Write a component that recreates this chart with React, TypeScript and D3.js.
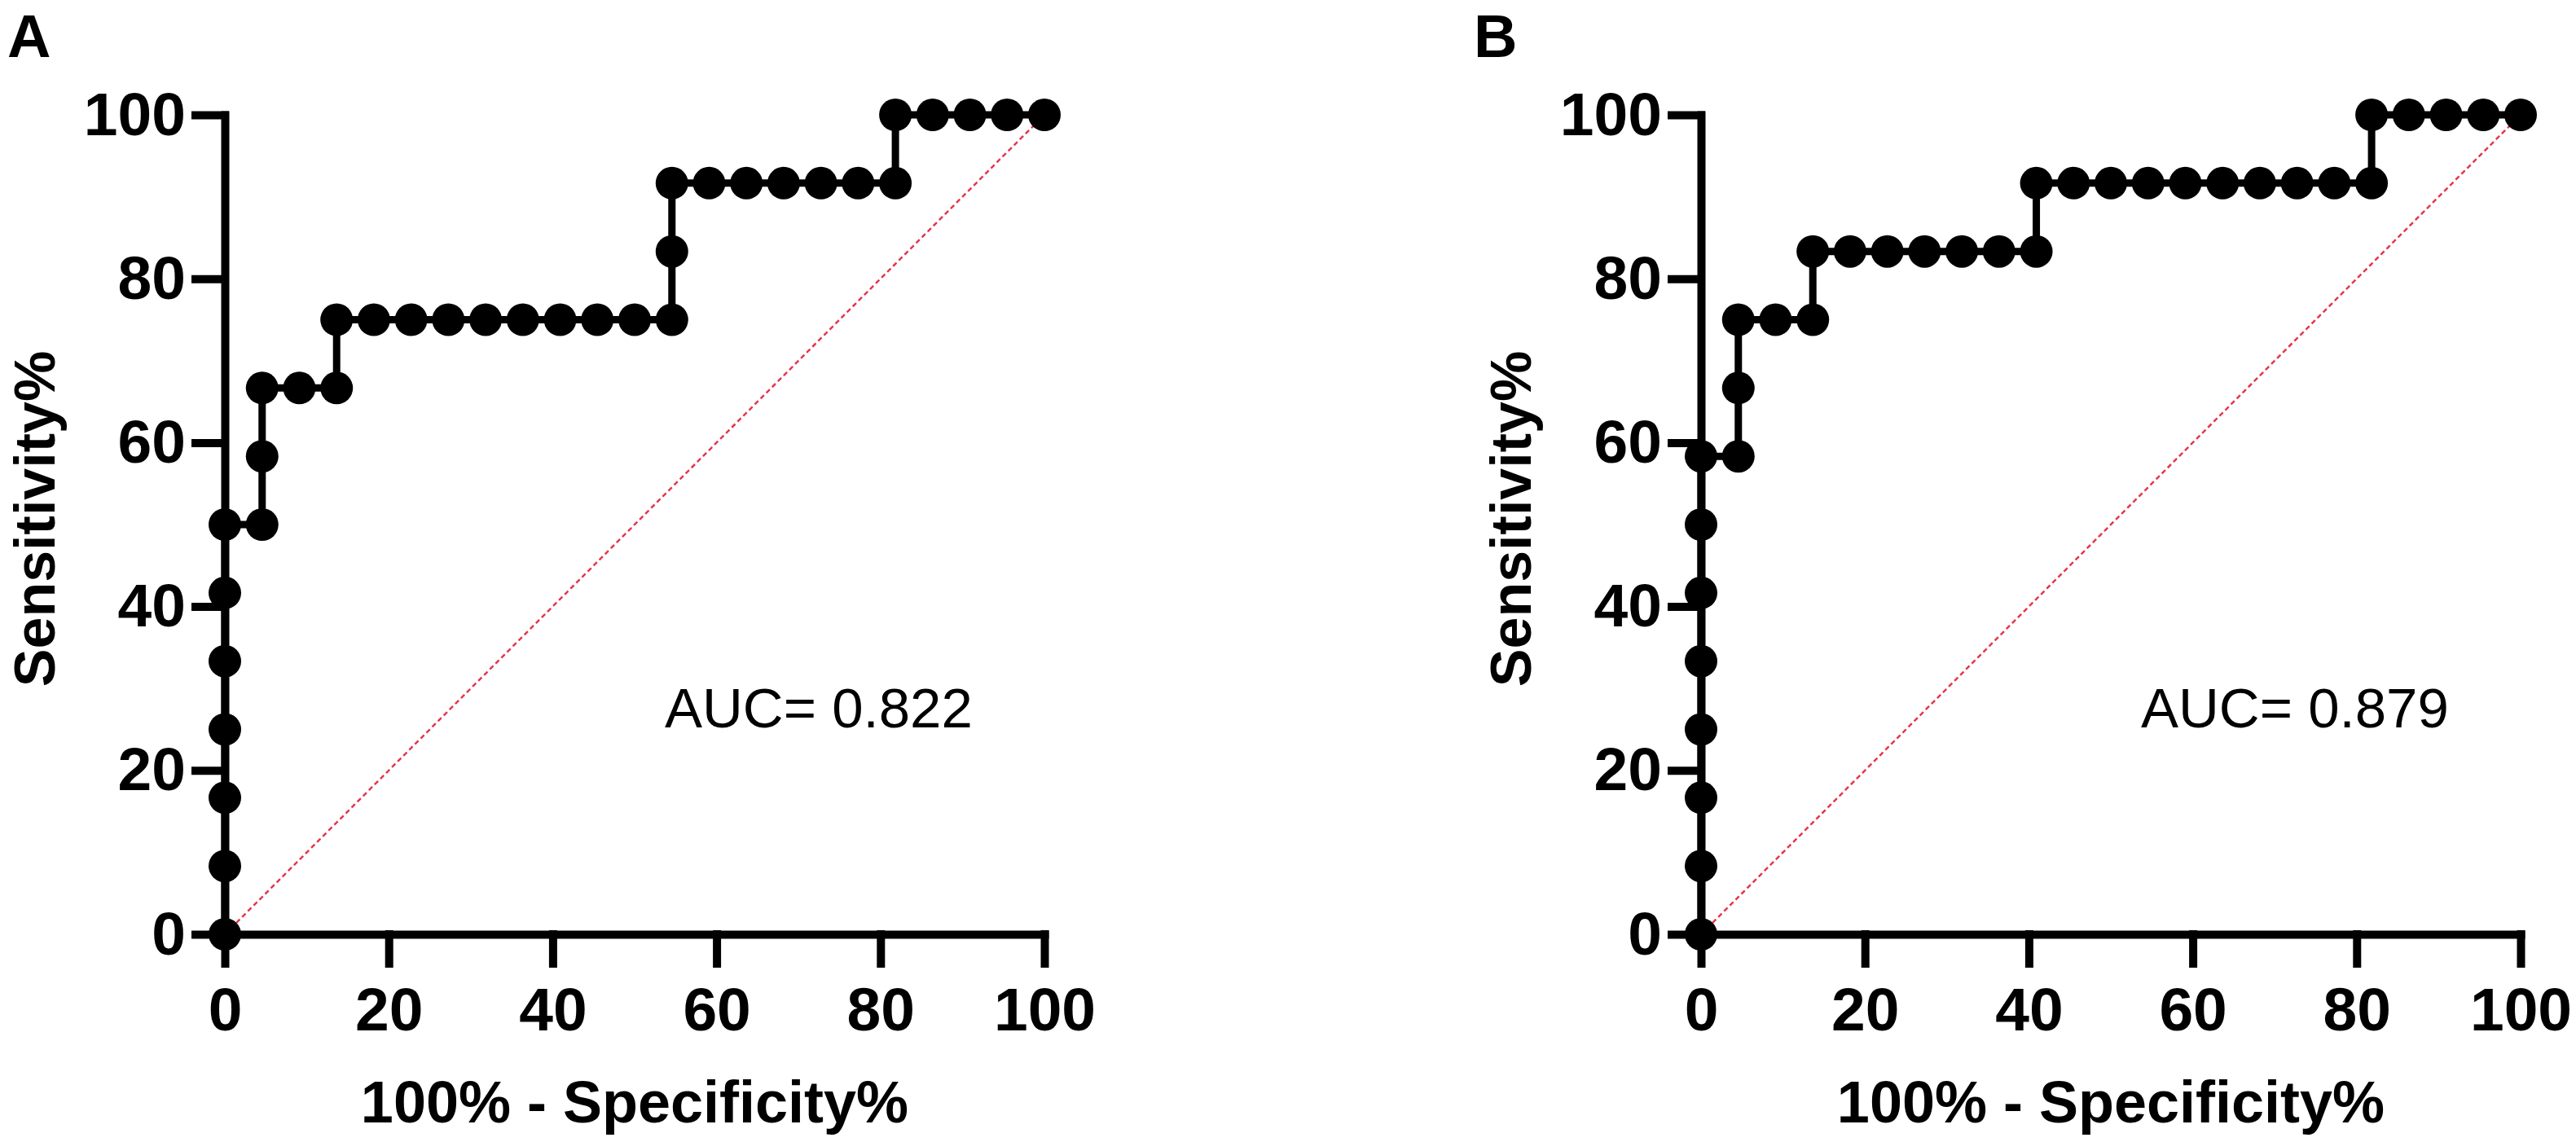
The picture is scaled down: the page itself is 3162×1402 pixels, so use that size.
import React, { useEffect, useRef } from "react";
import * as d3 from "d3";

const fprA = [
  0, 0, 0, 0, 0, 0, 0, 4.55, 4.55, 4.55, 9.09, 13.64, 13.64, 18.18, 22.73,
  27.27, 31.82, 36.36, 40.91, 45.45, 50, 54.55, 54.55, 54.55, 59.09, 63.64,
  68.18, 72.73, 77.27, 81.82, 81.82, 86.36, 90.91, 95.45, 100,
];
const tprA = [
  0, 8.33, 16.67, 25, 33.33, 41.67, 50, 50, 58.33, 66.67, 66.67, 66.67, 75, 75,
  75, 75, 75, 75, 75, 75, 75, 75, 83.33, 91.67, 91.67, 91.67, 91.67, 91.67,
  91.67, 91.67, 100, 100, 100, 100, 100,
];

const fprB = [
  0, 0, 0, 0, 0, 0, 0, 0, 4.55, 4.55, 4.55, 9.09, 13.64, 13.64, 18.18, 22.73,
  27.27, 31.82, 36.36, 40.91, 40.91, 45.45, 50, 54.55, 59.09, 63.64, 68.18,
  72.73, 77.27, 81.82, 81.82, 86.36, 90.91, 95.45, 100,
];
const tprB = [
  0, 8.33, 16.67, 25, 33.33, 41.67, 50, 58.33, 58.33, 66.67, 75, 75, 75, 83.33,
  83.33, 83.33, 83.33, 83.33, 83.33, 83.33, 91.67, 91.67, 91.67, 91.67, 91.67,
  91.67, 91.67, 91.67, 91.67, 91.67, 100, 100, 100, 100, 100,
];

const tickValues = [0, 20, 40, 60, 80, 100];
const diagonal = [0, 100];

const panels = [
  { label: "A", fpr: fprA, tpr: tprA, auc: "AUC= 0.822", left: 276, labelX: 9 },
  { label: "B", fpr: fprB, tpr: tprB, auc: "AUC= 0.879", left: 2088, labelX: 1809 },
];

const width = 3162;
const height = 1402;
const plotTop = 141;
const plotBottom = 1147;
const plotSize = 1006;
const font = "'Liberation Sans', Arial, Helvetica, sans-serif";

const App = () => {
  const ref: any = useRef();

  useEffect(() => {
    const svg = d3.select(ref.current);
    svg.selectAll("*").remove();

    panels.forEach((p) => {
      const xScale = d3.scaleLinear().domain([0, 100]).range([p.left, p.left + plotSize]);
      const yScale = d3.scaleLinear().domain([0, 100]).range([plotBottom, plotTop]);

      const g = svg.append("g");

      // panel letter
      g.append("text")
        .attr("x", p.labelX)
        .attr("y", 70)
        .attr("font-family", font)
        .attr("font-weight", "bold")
        .attr("font-size", 74)
        .text(p.label);

      // chance line
      const diagLine = d3
        .line<number>()
        .x((d) => xScale(d))
        .y((d) => yScale(d));
      g.append("path")
        .attr("d", diagLine(diagonal) || "")
        .attr("fill", "none")
        .attr("stroke", "#e8344e")
        .attr("stroke-width", 2.5)
        .attr("stroke-dasharray", "6 4");

      // axes
      const xAxis = d3
        .axisBottom(xScale)
        .tickValues(tickValues)
        .tickSize(36)
        .tickSizeOuter(0)
        .tickPadding(29)
        .tickFormat((d: any) => `${d}`);
      const yAxis = d3
        .axisLeft(yScale)
        .tickValues(tickValues)
        .tickSize(36)
        .tickSizeOuter(0)
        .tickPadding(12)
        .tickFormat((d: any) => `${d}`);

      [
        g.append("g").attr("transform", `translate(0,${plotBottom})`).call(xAxis),
        g.append("g").attr("transform", `translate(${p.left},0)`).call(yAxis),
      ].forEach((ax: any) => {
        ax.attr("font-family", font).attr("font-size", 75).attr("font-weight", "bold");
        ax.selectAll("path, line")
          .attr("stroke", "#000")
          .attr("stroke-width", 10)
          .attr("stroke-linecap", "square");
        ax.selectAll("text").attr("fill", "#000");
      });

      // ROC step curve
      const pts = p.fpr.map((x, i) => [x, p.tpr[i]] as [number, number]);
      const rocLine = d3
        .line<[number, number]>()
        .x((d) => xScale(d[0]))
        .y((d) => yScale(d[1]));
      g.append("path")
        .attr("d", rocLine(pts) || "")
        .attr("fill", "none")
        .attr("stroke", "#000")
        .attr("stroke-width", 9);

      g.append("g")
        .selectAll("circle")
        .data(pts)
        .join("circle")
        .attr("cx", (d) => xScale(d[0]))
        .attr("cy", (d) => yScale(d[1]))
        .attr("r", 20)
        .attr("fill", "#000");

      // AUC annotation
      g.append("text")
        .attr("x", p.left + 540)
        .attr("y", 893)
        .attr("font-family", font)
        .attr("font-size", 69)
        .attr("fill", "#000")
        .text(p.auc);

      // axis titles
      g.append("text")
        .attr("x", p.left + plotSize / 2)
        .attr("y", 1378)
        .attr("text-anchor", "middle")
        .attr("font-family", font)
        .attr("font-weight", "bold")
        .attr("font-size", 72)
        .text("100% - Specificity%");

      g.append("text")
        .attr("transform", `translate(${p.left - 209},${(plotTop + plotBottom) / 2 - 7}) rotate(-90)`)
        .attr("text-anchor", "middle")
        .attr("font-family", font)
        .attr("font-weight", "bold")
        .attr("font-size", 70)
        .text("Sensitivity%");
    });
  }, []);

  return (
    <svg
      ref={ref}
      width={width}
      height={height}
      style={{ position: "absolute", left: 0, top: 0, background: "#fff" }}
    ></svg>
  );
};

export default App;
